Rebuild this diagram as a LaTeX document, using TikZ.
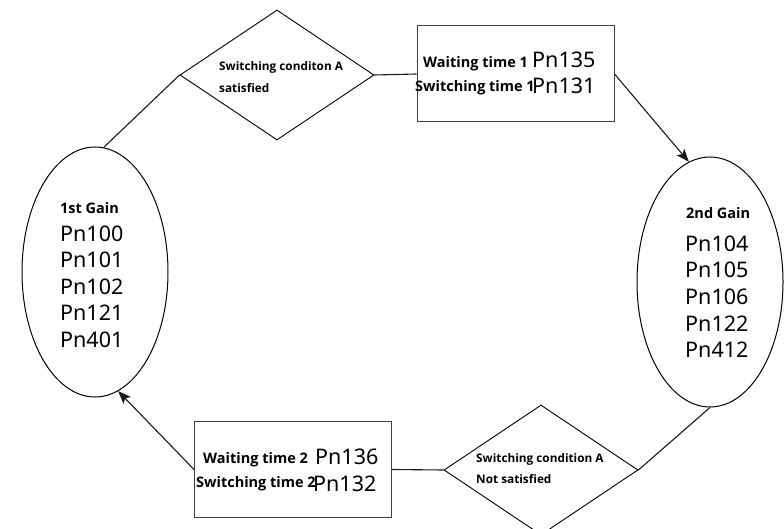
\documentclass[tikz,border=0pt]{standalone}
\usepackage{fontspec}
\setmainfont{Noto Sans}
\newfontfamily\lblfont{Open Sans}
\usetikzlibrary{shapes.geometric,arrows.meta}
\begin{document}
\begin{tikzpicture}[x=1pt,y=-1pt,
  conn/.style={line width=1.1pt,draw=black!90},
  arr/.style={conn,-{Stealth[length=13pt,width=10pt,inset=3pt]}},
  gainshape/.style={ellipse,draw,line width=1pt,minimum width=146pt,minimum height=250pt,inner sep=0pt},
  dia/.style={diamond,draw,line width=0.9pt,minimum width=194pt,minimum height=130pt,inner sep=0pt},
  boxs/.style={rectangle,draw=black!75,line width=1pt,inner sep=0pt,minimum width=197pt,minimum height=96pt},
  lbl/.style={font=\lblfont\bfseries\fontsize{14.5}{16}\selectfont,inner sep=0pt,anchor=base west},
  small/.style={font=\lblfont\bfseries\fontsize{11.8}{13}\selectfont,inner sep=0pt,anchor=base west},
  pn/.style={font=\fontsize{21.5}{24}\selectfont,inner sep=0pt,anchor=base west},
]
\useasboundingbox (0,0) rectangle (784,529);
\clip (0,0) rectangle (784,529);

% shapes
\node[gainshape] (L) at (95,272) {};
\node[gainshape] (R) at (710,282) {};
\node[dia] (D1) at (277,75) {};
\node[dia] (D2) at (541,470) {};
\node[boxs] (B1) at (515.5,74) {};
\node[boxs] (B2) at (293,469.5) {};

% connectors
\draw[conn] (L.86) -- (D1.west);
\draw[conn] (D1.east) -- (B1.west);
\draw[arr] (B1.east) -- (R.100);
\draw[conn] (R.-90) -- (D2.east);
\draw[conn] (D2.west) -- (B2.east);
\draw[arr] (B2.west) -- (L.-79);

% diamond texts
\node[small] (d1a) at (219,71) {Switching conditon A};
\node[small] (d1b) at (219,93) {satisfied};
\node[small] (d2a) at (476,462) {Switching condition A};
\node[small] (d2b) at (476,483) {Not satisfied};

% box texts
\node[lbl] (b1a) at (423,68) {Waiting time 1};
\node[pn] (b1b) at (532,68) {Pn135};
\node[lbl] (b1c) at (415,92) {Switching time 1};
\node[pn] (b1d) at (532,94) {Pn131};
\node[lbl] (b2a) at (203,463) {Waiting time 2};
\node[pn] (b2b) at (315,464) {Pn136};
\node[lbl] (b2c) at (196,487) {Switching time 2};
\node[pn] (b2d) at (313,491) {Pn132};

% left gain
\node[lbl] (lg) at (60,214) {1st Gain};
\node[pn] (l1) at (60,242) {Pn100};
\node[pn] (l2) at (60,268) {Pn101};
\node[pn] (l3) at (60,294.5) {Pn102};
\node[pn] (l4) at (60,320.5) {Pn121};
\node[pn] (l5) at (60,347) {Pn401};

% right gain
\node[lbl] (rg) at (686,219) {2nd Gain};
\node[pn] (r1) at (685,252) {Pn104};
\node[pn] (r2) at (685,278) {Pn105};
\node[pn] (r3) at (685,304.5) {Pn106};
\node[pn] (r4) at (685,331) {Pn122};
\node[pn] (r5) at (685,357) {Pn412};
\end{tikzpicture}
\end{document}
